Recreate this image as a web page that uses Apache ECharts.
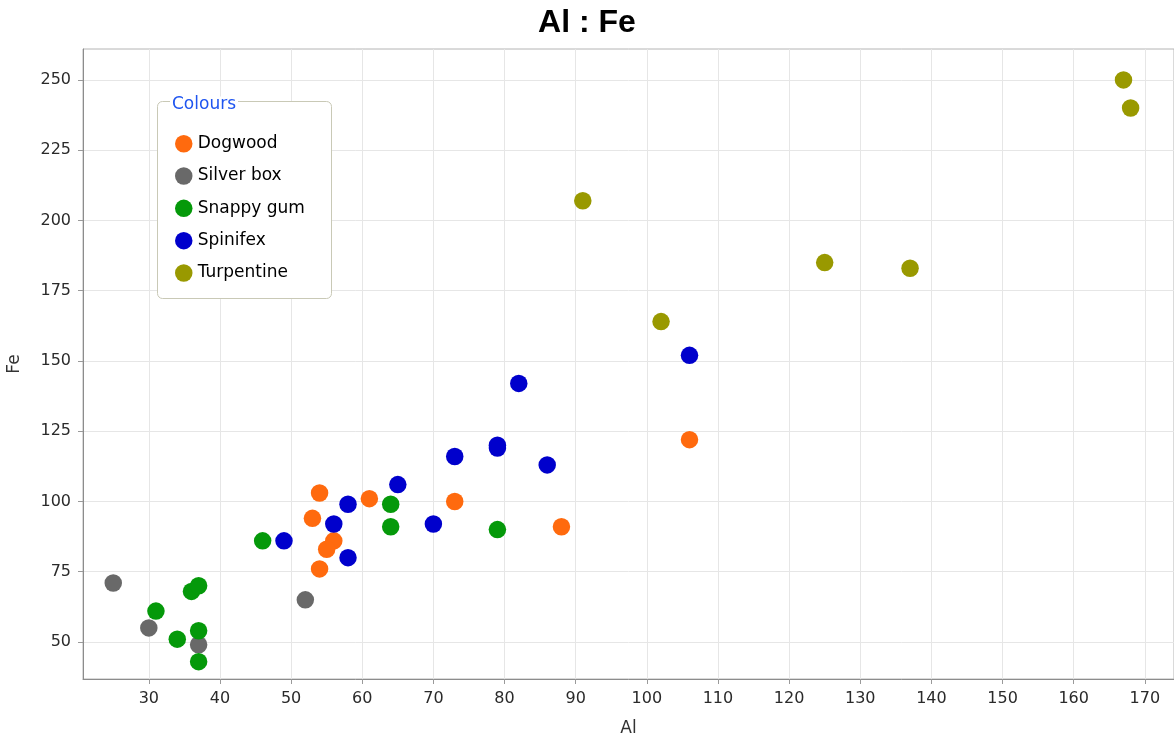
<!DOCTYPE html>
<html>
<head>
<meta charset="utf-8">
<title>Al : Fe</title>
<script src="https://cdn.jsdelivr.net/npm/echarts@6/dist/echarts.min.js"></script>
<style>
  html, body { margin: 0; padding: 0; background: #fff; }
  #chart { width: 1174px; height: 742px; }
</style>
</head>
<body>
<div id="chart"></div>
<script>
// Aluminium vs iron content, grouped by plant species
const dogwoodAl    = [54, 53, 61, 56, 55, 54, 73, 88, 106];
const dogwoodFe    = [103, 94, 101, 86, 83, 76, 100, 91, 122];
const silverBoxAl  = [25, 30, 37, 52];
const silverBoxFe  = [71, 55, 49, 65];
const snappyGumAl  = [31, 34, 36, 37, 37, 37, 46, 64, 64, 79];
const snappyGumFe  = [61, 51, 68, 70, 54, 43, 86, 99, 91, 90];
const spinifexAl   = [49, 56, 58, 58, 65, 70, 73, 79, 79, 86, 82, 106];
const spinifexFe   = [86, 92, 99, 80, 106, 92, 116, 119, 120, 113, 142, 152];
const turpentineAl = [91, 102, 125, 137, 167, 168];
const turpentineFe = [207, 164, 185, 183, 250, 240];

const speciesNames  = ['Dogwood', 'Silver box', 'Snappy gum', 'Spinifex', 'Turpentine'];
const speciesColors = ['#ff6a0e', '#696969', '#05990a', '#0000cc', '#999900'];
const speciesAl = [dogwoodAl, silverBoxAl, snappyGumAl, spinifexAl, turpentineAl];
const speciesFe = [dogwoodFe, silverBoxFe, snappyGumFe, spinifexFe, turpentineFe];

const xTicks = [30, 40, 50, 60, 70, 80, 90, 100, 110, 120, 130, 140, 150, 160, 170];
const yTicks = [50, 75, 100, 125, 150, 175, 200, 225, 250];

const labelFont = 'DejaVu Sans, sans-serif';

const series = speciesNames.map((name, i) => ({
  name: name,
  type: 'scatter',
  symbol: 'circle',
  symbolSize: 17.5,
  itemStyle: { color: speciesColors[i], opacity: 1 },
  emphasis: { disabled: true },
  data: speciesAl[i].map((a, k) => [a, speciesFe[i][k]])
}));

const chart = echarts.init(document.getElementById('chart'), null, { renderer: 'canvas' });

chart.setOption({
  animation: false,
  backgroundColor: '#ffffff',
  title: {
    text: 'Al : Fe',
    left: 'center',
    top: 7,
    padding: 0,
    textStyle: {
      fontFamily: 'Liberation Sans, Arial, sans-serif',
      fontWeight: 'bold',
      fontSize: 32,
      color: '#000'
    }
  },
  grid: {
    left: 83,
    top: 49,
    right: 0,
    bottom: 63,
    outerBoundsMode: 'none',
    containLabel: false,
    show: true,
    borderColor: '#b4b4b4',
    borderWidth: 1,
    backgroundColor: 'transparent'
  },
  xAxis: {
    type: 'value',
    min: 20.75,
    max: 174.1,
    name: 'Al',
    nameLocation: 'middle',
    nameGap: 41,
    nameTextStyle: { fontFamily: labelFont, fontSize: 17, color: '#333' },
    axisLine: { show: true, onZero: false, lineStyle: { color: '#8c8c8c', width: 1 } },
    axisTick: { show: true, length: 5, customValues: xTicks, lineStyle: { color: '#9a9a9a' } },
    axisLabel: {
      customValues: xTicks,
      margin: 12,
      fontFamily: labelFont,
      fontSize: 16,
      color: '#2a2a2a'
    },
    splitLine: { show: true, lineStyle: { color: '#e6e6e6', width: 1 } }
  },
  yAxis: {
    type: 'value',
    min: 36.83,
    max: 261,
    name: 'Fe',
    nameLocation: 'middle',
    nameGap: 60,
    nameTextStyle: { fontFamily: labelFont, fontSize: 17, color: '#333' },
    axisLine: { show: true, onZero: false, lineStyle: { color: '#8c8c8c', width: 1 } },
    axisTick: { show: true, length: 5, customValues: yTicks, lineStyle: { color: '#9a9a9a' } },
    axisLabel: {
      customValues: yTicks,
      margin: 12,
      fontFamily: labelFont,
      fontSize: 16,
      color: '#2a2a2a'
    },
    splitLine: { show: true, lineStyle: { color: '#e6e6e6', width: 1 } }
  },
  legend: {
    orient: 'vertical',
    left: 175,
    top: 135,
    padding: 0,
    itemWidth: 18,
    itemHeight: 17.5,
    itemGap: 14.8,
    icon: 'circle',
    selectedMode: false,
    data: speciesNames,
    textStyle: {
      fontFamily: labelFont,
      fontSize: 17,
      lineHeight: 17.5,
      color: '#000'
    },
    z: 6
  },
  graphic: [
    {
      type: 'rect',
      z: 5,
      shape: { x: 157.5, y: 101.5, width: 174, height: 197, r: 5 },
      style: { fill: '#ffffff', stroke: '#c9c9b6', lineWidth: 1 }
    },
    {
      type: 'text',
      z: 7,
      x: 170,
      y: 105,
      style: {
        text: 'Colours',
        font: '17px DejaVu Sans, sans-serif',
        fill: '#1f55f0',
        verticalAlign: 'middle',
        align: 'left',
        backgroundColor: '#ffffff',
        padding: [0, 2, 0, 2]
      }
    }
  ],
  series: series
});
</script>
</body>
</html>
